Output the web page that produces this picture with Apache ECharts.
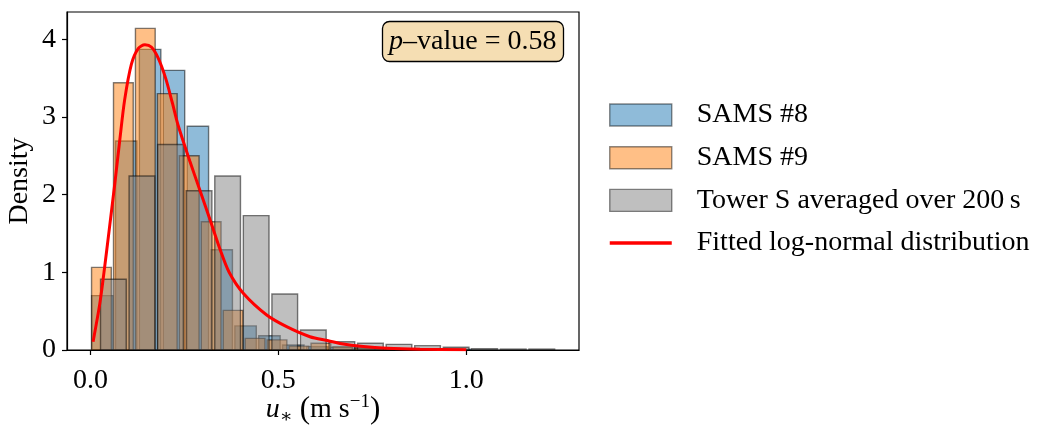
<!DOCTYPE html>
<html><head><meta charset="utf-8">
<script src="https://cdn.jsdelivr.net/npm/echarts@6/dist/echarts.min.js"></script>
<style>html,body{margin:0;padding:0;background:#fff}#c{width:1062px;height:426px}</style>
</head><body><div id="c"></div>
<script>
// ---- data ----
const seriesNames = ['SAMS #8', 'SAMS #9', 'Tower S averaged over 200\u2009s', 'Fitted log-normal distribution'];

// histogram bins: first edge and bin width (m s^-1)
const sams8BinStart = 0.0,  sams8BinWidth = 0.0635;
const sams9BinStart = 0.0,  sams9BinWidth = 0.0584;
const towerBinStart = 0.023, towerBinWidth = 0.0760;

const sams8Density = [0.70, 2.69, 3.87, 3.60, 2.88, 1.29, 0.31, 0.184, 0.064, 0.043, 0.035, 0.025, 0.02, 0.015, 0.01, 0.01];
const sams9Density = [1.063, 3.44, 4.14, 3.30, 2.50, 1.65, 0.51, 0.15, 0.13, 0.05, 0.086, 0.04, 0.025, 0.02, 0.015, 0.01, 0.01];
const towerDensity = [0.91, 2.24, 2.645, 2.05, 2.24, 1.73, 0.72, 0.257, 0.107, 0.086, 0.073, 0.056, 0.035, 0.017, 0.012, 0.012];

const fitX = [0.007, 0.025, 0.036, 0.050, 0.065, 0.078, 0.091, 0.109, 0.127, 0.145, 0.162, 0.180, 0.200, 0.218, 0.2335, 0.2646, 0.291, 0.318, 0.3445, 0.369, 0.4066, 0.469, 0.522, 0.584, 0.633, 0.664, 0.726, 0.789, 0.877, 1.0];
const fitY = [0.107, 0.60, 1.00, 1.55, 2.15, 2.70, 3.22, 3.68, 3.88, 3.93, 3.90, 3.76, 3.50, 3.18, 2.89, 2.43, 2.06, 1.68, 1.30, 1.00, 0.73, 0.45, 0.30, 0.171, 0.12, 0.085, 0.045, 0.022, 0.009, 0.003];

const xTicks = [0, 0.5, 1.0];
const yTicks = [0, 1, 2, 3, 4];
const pValueText = '0.58';

// ---- chart ----
const FONT = "'Liberation Serif', 'DejaVu Serif', serif";
const RW = 0.9; // relative bar width
function histData(start, width, vals) {
  return vals.map((v, k) => [start + width * (k + (1 - RW) / 2), start + width * (k + 1 - (1 - RW) / 2), v]);
}
function rectRenderer(fill) {
  return function (params, api) {
    const p0 = api.coord([api.value(0), 0]);
    const p1 = api.coord([api.value(1), api.value(2)]);
    return {
      type: 'rect',
      shape: { x: p0[0], y: p1[1], width: p1[0] - p0[0], height: p0[1] - p1[1] },
      style: { fill: fill, stroke: 'rgba(0,0,0,0.5)', lineWidth: 1.4 }
    };
  };
}
const C8 = 'rgba(31,119,180,0.5)', C9 = 'rgba(255,127,14,0.5)', CT = 'rgba(127,127,127,0.5)';

const chart = echarts.init(document.getElementById('c'), null, { renderer: 'canvas' });
chart.setOption({
  backgroundColor: '#fff',
  animation: false,
  textStyle: { fontFamily: FONT, color: '#000' },
  title: {
    left: 382, top: 21,
    text: '{i|p}\u2013value = ' + pValueText,
    backgroundColor: '#f5deb3', borderColor: '#000', borderWidth: 1.3, borderRadius: 7,
    padding: [4, 7, 4, 7],
    textStyle: {
      fontFamily: FONT, fontSize: 28, fontWeight: 'normal', color: '#000', lineHeight: 33,
      rich: { i: { fontFamily: FONT, fontStyle: 'italic', fontSize: 28, lineHeight: 33 } }
    }
  },
  grid: { left: 67, top: 12, width: 512, height: 338, show: true, borderColor: '#000', borderWidth: 1.2,
          backgroundColor: 'transparent', outerBoundsMode: 'none', containLabel: false },
  legend: {
    orient: 'vertical', left: 608, top: 101, padding: 0,
    itemWidth: 62, itemHeight: 22, itemGap: 14.7,
    textStyle: { fontFamily: FONT, fontSize: 28, color: '#000', padding: [0, 0, 0, 20], lineHeight: 22 },
    data: [
      { name: seriesNames[0], icon: 'rect', itemStyle: { color: C8, borderColor: 'rgba(0,0,0,0.45)', borderWidth: 1.4 } },
      { name: seriesNames[1], icon: 'rect', itemStyle: { color: C9, borderColor: 'rgba(0,0,0,0.45)', borderWidth: 1.4 } },
      { name: seriesNames[2], icon: 'rect', itemStyle: { color: CT, borderColor: 'rgba(0,0,0,0.45)', borderWidth: 1.4 } },
      { name: seriesNames[3], itemStyle: { color: 'rgba(0,0,0,0)', borderWidth: 0, opacity: 0 }, lineStyle: { color: '#ff0000', width: 3.5 } }
    ]
  },
  xAxis: {
    type: 'value', min: -0.0624, max: 1.30,
    name: '{i|u}{sub|\u2217} {p|(}m s{sup|\u22121}{p|)}',
    nameLocation: 'middle', nameGap: 43, nameMoveOverlap: false,
    nameTextStyle: {
      fontFamily: FONT, fontSize: 28, color: '#000', lineHeight: 34,
      rich: {
        i: { fontFamily: FONT, fontStyle: 'italic', fontSize: 28, lineHeight: 34 },
        sub: { fontFamily: FONT, fontSize: 19, lineHeight: 19, verticalAlign: 'bottom' },
        sup: { fontFamily: FONT, fontSize: 19, lineHeight: 19, verticalAlign: 'top' },
        p: { fontFamily: FONT, fontSize: 31, lineHeight: 34 }
      }
    },
    axisLine: { show: true, onZero: false, lineStyle: { color: '#000', width: 1.2 } },
    axisTick: { show: true, customValues: xTicks, length: 5, lineStyle: { color: '#000', width: 1.2 } },
    axisLabel: { customValues: xTicks, formatter: v => v.toFixed(1), fontFamily: FONT, fontSize: 28, color: '#000', margin: 17 },
    splitLine: { show: false }
  },
  yAxis: {
    type: 'value', min: 0, max: 4.351,
    name: 'Density', nameLocation: 'middle', nameGap: 33, nameRotate: 90, nameMoveOverlap: false,
    nameTextStyle: { fontFamily: FONT, fontSize: 28, color: '#000' },
    axisLine: { show: true, onZero: false, lineStyle: { color: '#000', width: 1.2 } },
    axisTick: { show: true, customValues: yTicks, length: 5, lineStyle: { color: '#000', width: 1.2 } },
    axisLabel: { customValues: yTicks, formatter: v => String(v), fontFamily: FONT, fontSize: 28, color: '#000', margin: 11 },
    splitLine: { show: false }
  },
  series: [
    { name: seriesNames[0], type: 'custom', renderItem: rectRenderer(C8), itemStyle: { color: C8 },
      encode: { x: [0, 1], y: 2 }, data: histData(sams8BinStart, sams8BinWidth, sams8Density), z: 2 },
    { name: seriesNames[1], type: 'custom', renderItem: rectRenderer(C9), itemStyle: { color: C9 },
      encode: { x: [0, 1], y: 2 }, data: histData(sams9BinStart, sams9BinWidth, sams9Density), z: 3 },
    { name: seriesNames[2], type: 'custom', renderItem: rectRenderer(CT), itemStyle: { color: CT },
      encode: { x: [0, 1], y: 2 }, data: histData(towerBinStart, towerBinWidth, towerDensity), z: 4 },
    { name: seriesNames[3], type: 'line', smooth: 0.3, symbol: 'none', z: 5,
      itemStyle: { color: '#ff0000' },
      lineStyle: { color: '#ff0000', width: 3 },
      data: fitX.map((x, i) => [x, fitY[i]]) }
  ]
});
</script>
</body></html>
